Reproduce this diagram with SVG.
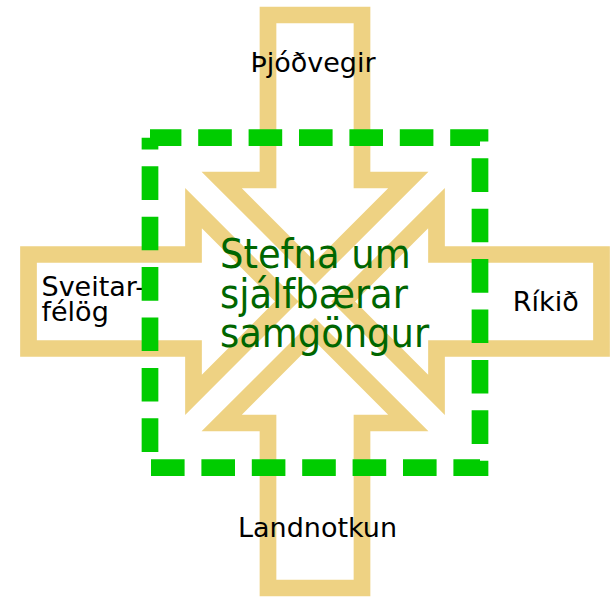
<svg xmlns="http://www.w3.org/2000/svg" width="613" height="597" viewBox="0 0 613 597">
<style>
.arrow{fill:none;stroke:#EED283;stroke-width:16.7;stroke-linejoin:miter}
.lbl{font-family:"DejaVu Sans","Liberation Sans",sans-serif;font-size:27px;fill:#000}
.main{font-family:"DejaVu Sans Condensed","DejaVu Sans","Liberation Sans",sans-serif;font-stretch:condensed;font-size:41px;fill:#006600}
.frame{fill:none;stroke:#00CC00;stroke-width:16.7;stroke-dasharray:33.6 16.8;stroke-dashoffset:21.8}
</style>
<defs>
<path id="arw" d="M-47,-286.5 H47 V-121.5 H93.3 L0,-28.2 L-93.3,-121.5 H-47 Z"/>
</defs>
<rect width="613" height="597" fill="#fff"/>
<g id="thjodvegir">
<use href="#arw" class="arrow" transform="translate(315,301.5)"/>
<text class="lbl" x="313" y="71.7" text-anchor="middle">Þjóðvegir</text>
</g>
<g id="rikid">
<use href="#arw" class="arrow" transform="translate(315,301.5) rotate(90)"/>
<text class="lbl" x="545.8" y="311" text-anchor="middle">Ríkið</text>
</g>
<g id="landnotkun">
<use href="#arw" class="arrow" transform="translate(315,301.5) rotate(180)"/>
<text class="lbl" x="317.5" y="537.3" text-anchor="middle">Landnotkun</text>
</g>
<g id="sveitarfelog">
<use href="#arw" class="arrow" transform="translate(315,301.5) rotate(270)"/>
<text class="lbl" x="41.5" y="296">Sveitar-</text>
<text class="lbl" x="41.5" y="321">félög</text>
</g>
<g id="connectors"></g>
<g id="stefna">
<path class="frame" d="M150,137.7 V467.7 H480 V137.7 H150"/>
<text class="main" x="220" y="268.3">Stefna um</text>
<text class="main" x="220" y="307.5">sjálfbærar</text>
<text class="main" x="220" y="346.5">samgöngur</text>
</g>
</svg>
